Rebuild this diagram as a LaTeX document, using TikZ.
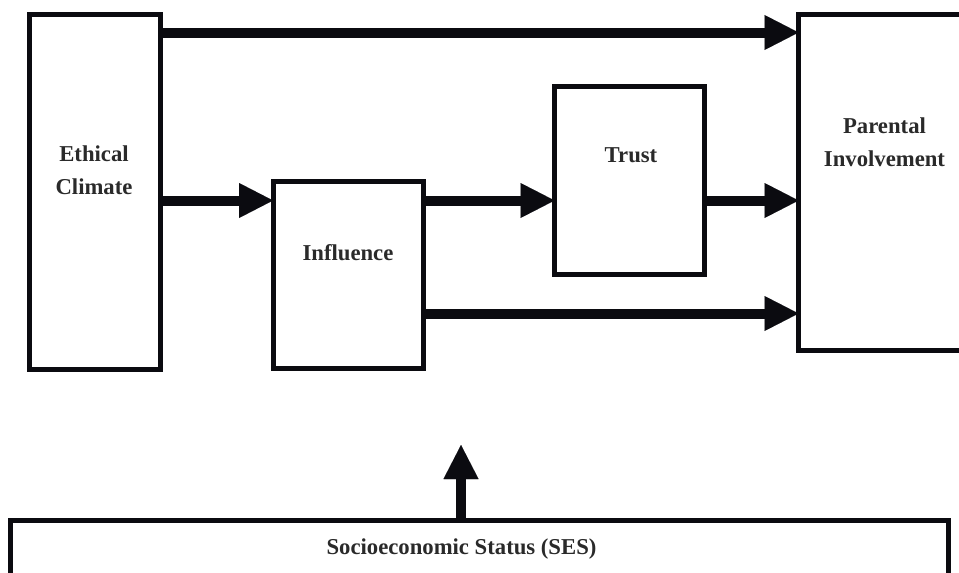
\documentclass[tikz,border=0pt]{standalone}
\usepackage{fontspec}
\setmainfont{Liberation Serif}
\usetikzlibrary{arrows.meta}
\definecolor{ink}{HTML}{0B0B10}
\definecolor{txt}{HTML}{2A2A2A}
\begin{document}
\begin{tikzpicture}[x=1pt,y=-1pt,
  box/.style={rectangle, draw=ink, line width=5pt, inner sep=0pt, outer sep=0pt},
  lbl/.style={text=txt, font=\bfseries\fontsize{22.7}{33}\selectfont, align=center, inner sep=0pt},
  arr/.style={draw=ink, line width=10pt, -{Triangle[length=34pt,width=35pt,line width=0.01pt]}}]
\useasboundingbox (0,0) rectangle (959,573);
\fill[white] (0,0) rectangle (959,573);
\clip (0,0) rectangle (959,573);

% boxes
\node[box, minimum width=131pt, minimum height=355.5pt] (eth) at (95,191.75) {};
\node[box, minimum width=150.5pt, minimum height=187pt] (inf) at (348.25,274.5) {};
\node[box, minimum width=150pt, minimum height=188pt] (tru) at (629.5,180.5) {};
\node[box, minimum width=172pt, minimum height=336pt] (par) at (884.5,182.5) {};
\node[box, minimum width=937.5pt, minimum height=160pt] (ses) at (479.25,600.5) {};

% labels
\node[lbl] (ethT) at (94,170.5) {Ethical\\Climate};
\node[lbl] (infT) at (348,252.5) {Influence};
\node[lbl] (truT) at (631,155.5) {Trust};
\node[lbl] (parT) at (884.5,141.75) {Parental\\Involvement};
\node[lbl] (sesT) at (461.5,549) {Socioeconomic Status (SES)};

% rows of the horizontal paths
\coordinate (rowA) at (0,32.5);
\coordinate (rowB) at (0,200.5);
\coordinate (rowC) at (0,313.5);
\coordinate (sesTip) at (461,445);

\draw[arr] (eth.east |- rowA) -- (par.west |- rowA);
\draw[arr] (eth.east |- rowB) -- (inf.west |- rowB);
\draw[arr] (inf.east |- rowB) -- (tru.west |- rowB);
\draw[arr] (tru.east |- rowB) -- (par.west |- rowB);
\draw[arr] (inf.east |- rowC) -- (par.west |- rowC);
\draw[arr] (ses.north -| sesTip) -- (sesTip);
\end{tikzpicture}
\end{document}
